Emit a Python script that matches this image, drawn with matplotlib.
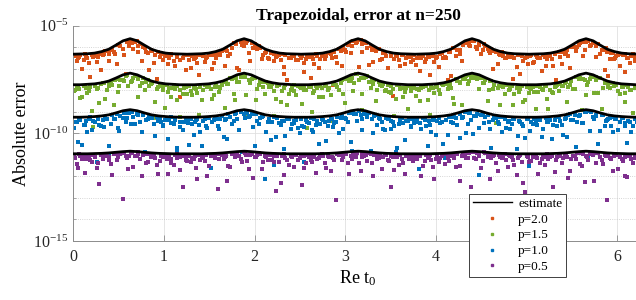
import numpy as np
import matplotlib
matplotlib.use("Agg")
import matplotlib.pyplot as plt
from matplotlib.ticker import NullFormatter, LogFormatterMathtext
from matplotlib.lines import Line2D

plt.rcParams['font.family'] = ['Liberation Serif', 'DejaVu Serif']
plt.rcParams['mathtext.fontset'] = 'custom'
plt.rcParams['mathtext.rm'] = 'Liberation Serif'
plt.rcParams['mathtext.it'] = 'Liberation Serif:italic'

# sample points Re t0 (shared by all p)
x_t0 = [0.01, 0.04, 0.06, 0.10, 0.13, 0.15, 0.19, 0.22, 0.26, 0.29,
        0.33, 0.35, 0.39, 0.42, 0.45, 0.48, 0.51, 0.55, 0.58, 0.61,
        0.64, 0.66, 0.70, 0.72, 0.76, 0.79, 0.83, 0.86, 0.89, 0.93,
        0.96, 0.99, 1.01, 1.05, 1.08, 1.11, 1.14, 1.18, 1.21, 1.24,
        1.27, 1.30, 1.33, 1.35, 1.39, 1.42, 1.45, 1.48, 1.52, 1.55,
        1.58, 1.61, 1.64, 1.67, 1.70, 1.73, 1.77, 1.80, 1.83, 1.86,
        1.89, 1.92, 1.95, 1.98, 2.02, 2.05, 2.08, 2.11, 2.15, 2.18,
        2.21, 2.24, 2.27, 2.30, 2.33, 2.36, 2.40, 2.43, 2.46, 2.50,
        2.52, 2.55, 2.58, 2.62, 2.65, 2.68, 2.71, 2.74, 2.78, 2.81,
        2.84, 2.87, 2.90, 2.93, 2.96, 3.00, 3.03, 3.06, 3.09, 3.12,
        3.15, 3.18, 3.21, 3.24, 3.28, 3.31, 3.34, 3.37, 3.40, 3.44,
        3.47, 3.50, 3.53, 3.56, 3.59, 3.63, 3.66, 3.69, 3.72, 3.75,
        3.78, 3.81, 3.84, 3.88, 3.91, 3.94, 3.97, 4.00, 4.03, 4.07,
        4.10, 4.13, 4.16, 4.19, 4.22, 4.26, 4.29, 4.32, 4.35, 4.38,
        4.41, 4.44, 4.47, 4.50, 4.53, 4.57, 4.60, 4.63, 4.66, 4.70,
        4.73, 4.76, 4.79, 4.82, 4.85, 4.89, 4.92, 4.95, 4.98, 5.01,
        5.04, 5.07, 5.10, 5.13, 5.17, 5.20, 5.23, 5.26, 5.29, 5.32,
        5.36, 5.39, 5.42, 5.45, 5.48, 5.51, 5.55, 5.58, 5.61, 5.64,
        5.67, 5.70, 5.73, 5.76, 5.79, 5.83, 5.86, 5.89, 5.92, 5.95,
        5.98, 6.01, 6.05, 6.08, 6.11, 6.14, 6.17, 6.20, 6.24, 6.27,
        0.02, 0.05, 0.08, 0.12, 0.14, 0.17, 0.21, 0.24, 0.27, 0.31,
        0.34, 0.37, 0.40, 0.43, 0.46, 0.49, 0.52, 0.56, 0.59, 0.62,
        0.65, 0.68, 0.71, 0.74, 0.77, 0.80, 0.84, 0.87, 0.90, 0.94,
        0.97, 0.99, 1.03, 1.06, 1.08, 1.12, 1.15, 1.18, 1.22, 1.25,
        1.28, 1.31, 1.34, 1.37, 1.40, 1.43, 1.46, 1.50, 1.53, 1.56,
        1.60, 1.62, 1.66, 1.69, 1.71, 1.75, 1.78, 1.81, 1.85, 1.88,
        1.91, 1.94, 1.97, 2.00, 2.03, 2.06, 2.09, 2.13, 2.16, 2.19,
        2.22, 2.25, 2.29, 2.32, 2.34, 2.38, 2.41, 2.44, 2.48, 2.51,
        2.54, 2.57, 2.60, 2.63, 2.66, 2.69, 2.72, 2.75, 2.79, 2.82,
        2.85, 2.88, 2.91, 2.95, 2.97, 3.01, 3.04, 3.07, 3.10, 3.13,
        3.17, 3.19, 3.23, 3.26, 3.29, 3.32, 3.35, 3.38, 3.42, 3.45,
        3.48, 3.51, 3.54, 3.57, 3.60, 3.64, 3.67, 3.70, 3.73, 3.76,
        3.79, 3.82, 3.86, 3.89, 3.92, 3.95, 3.98, 4.01, 4.05, 4.08,
        4.11, 4.14, 4.17, 4.20, 4.23, 4.27, 4.30, 4.33, 4.36, 4.39,
        4.42, 4.45, 4.48, 4.52, 4.54, 4.58, 4.61, 4.64, 4.68, 4.71,
        4.74, 4.77, 4.81, 4.84, 4.86, 4.90, 4.93, 4.96, 5.00, 5.03,
        5.05, 5.08, 5.11, 5.15, 5.18, 5.21, 5.24, 5.28, 5.31, 5.33,
        5.37, 5.40, 5.43, 5.46, 5.49, 5.53, 5.56, 5.59, 5.62, 5.65,
        5.68, 5.71, 5.74, 5.77, 5.81, 5.84, 5.87, 5.90, 5.93, 5.96,
        5.99, 6.03, 6.06, 6.09, 6.12, 6.15, 6.19, 6.22, 6.25, 6.28]

# log10 of absolute error, per p
err_p20 = [-6.37, -6.62, -6.44, -7.01, -6.33, -6.52, -7.38, -6.43, -6.66, -6.31,
           -6.36, -6.18, -6.64, -6.12, -6.21, -6.77, -5.87, -6.08, -7.26, -5.74,
           -5.71, -6.06, -5.72, -5.94, -6.62, -6.04, -6.25, -6.11, -6.73, -7.48,
           -6.45, -6.32, -6.42, -6.76, -6.33, -6.63, -6.42, -8.31, -6.51, -7.07,
           -6.35, -6.97, -6.53, -6.43, -7.31, -6.37, -6.66, -6.45, -6.35, -6.73,
           -6.50, -6.29, -6.15, -6.87, -6.19, -6.32, -5.82, -5.86, -7.06, -5.88,
           -5.73, -5.72, -6.64, -6.04, -5.98, -5.94, -6.55, -6.27, -6.49, -6.28,
           -6.64, -6.43, -6.37, -6.33, -6.90, -7.50, -6.48, -6.40, -6.58, -6.35,
           -6.40, -6.72, -6.47, -7.41, -6.53, -6.32, -6.98, -6.40, -6.56, -6.28,
           -6.31, -7.74, -6.44, -6.09, -6.85, -6.13, -5.90, -6.28, -5.70, -5.79,
           -6.91, -6.24, -5.75, -6.02, -5.96, -6.70, -6.17, -6.08, -6.55, -6.28,
           -6.95, -6.42, -8.26, -6.39, -6.61, -6.35, -6.79, -6.47, -6.41, -6.57,
           -6.82, -6.41, -6.49, -6.69, -6.38, -7.30, -6.40, -6.49, -6.91, -6.26,
           -6.45, -7.54, -6.22, -6.04, -6.40, -6.11, -6.65, -5.79, -5.81, -5.93,
           -5.71, -6.00, -5.91, -6.32, -5.86, -6.06, -6.27, -7.00, -6.21, -6.30,
           -6.23, -6.49, -6.35, -6.45, -7.48, -6.92, -6.36, -6.42, -6.52, -6.76,
           -6.42, -6.74, -6.35, -6.51, -7.11, -6.44, -6.56, -6.34, -6.86, -7.53,
           -6.21, -6.79, -6.30, -6.14, -6.95, -5.94, -6.18, -5.90, -5.75, -6.11,
           -5.66, -5.94, -5.81, -6.44, -5.84, -6.12, -7.07, -6.20, -6.53, -6.26,
           -6.52, -6.38, -6.32, -7.13, -6.52, -6.75, -6.33, -6.44, -7.72, -6.59,
           -6.39, -6.50, -6.34, -6.59, -6.42, -6.74, -6.34, -6.41, -6.46, -7.06,
           -6.30, -6.18, -6.31, -6.08, -6.30, -5.89, -5.93, -6.37, -5.74, -5.92,
           -5.82, -5.76, -6.24, -5.84, -5.99, -6.20, -7.06, -6.17, -6.34, -6.23,
           -6.27, -6.59, -6.39, -6.49, -6.36, -6.88, -6.45, -6.58, -6.37, -7.82,
           -6.61, -6.40, -6.48, -6.71, -6.36, -6.41, -6.51, -6.36, -7.00, -6.37,
           -6.26, -6.38, -6.13, -6.13, -6.41, -6.04, -5.81, -6.94, -5.75, -5.96,
           -5.78, -6.28, -5.82, -5.83, -6.06, -6.02, -6.34, -6.22, -6.56, -6.26,
           -6.29, -6.39, -6.57, -7.23, -6.37, -6.50, -6.42, -6.37, -6.59, -6.50,
           -7.17, -6.54, -6.45, -6.37, -6.76, -6.40, -6.56, -6.30, -6.42, -6.28,
           -6.48, -6.23, -6.75, -6.15, -5.97, -6.22, -5.86, -5.93, -5.69, -5.74,
           -5.66, -5.85, -5.80, -6.83, -6.11, -6.08, -6.07, -6.61, -6.25, -6.39,
           -7.73, -6.30, -6.53, -6.42, -6.87, -6.37, -6.52, -6.44, -6.66, -6.36,
           -6.48, -7.08, -6.40, -6.54, -6.43, -6.34, -6.68, -6.44, -6.32, -6.50,
           -6.52, -6.24, -7.32, -6.03, -6.12, -6.33, -5.91, -5.75, -5.89, -5.70,
           -5.69, -6.07, -5.85, -6.11, -5.93, -6.15, -6.06, -6.19, -6.77, -6.35,
           -6.41, -6.52, -6.32, -6.39, -6.49, -6.38, -7.26, -6.62, -6.46, -6.38,
           -6.36, -6.66, -6.43, -6.52, -6.38, -6.87, -6.42, -6.53, -6.29, -7.71,
           -6.46, -6.21, -6.24, -6.39, -5.98, -5.97, -6.00, -5.78, -6.40, -5.77,
           -5.71, -5.91, -5.78, -5.92, -6.32, -6.12, -6.05, -7.34, -6.26, -6.54,
           -6.39, -6.87, -6.37, -6.33, -6.51, -6.39, -6.64, -6.45, -6.73, -6.39]

err_p15 = [-8.04, -7.85, -7.93, -8.31, -7.79, -8.12, -7.84, -9.71, -7.92, -8.57,
           -7.68, -8.38, -7.82, -7.65, -8.66, -7.49, -7.81, -7.50, -7.35, -7.81,
           -7.59, -7.41, -7.33, -8.33, -7.66, -7.97, -7.50, -7.69, -9.28, -7.96,
           -7.79, -7.78, -8.84, -8.07, -7.90, -7.77, -8.43, -7.99, -8.17, -7.86,
           -7.78, -8.05, -7.85, -7.93, -9.17, -8.46, -7.77, -7.84, -7.93, -8.20,
           -7.74, -8.08, -7.75, -8.83, -7.72, -7.43, -8.19, -7.44, -7.60, -7.27,
           -7.37, -9.15, -7.68, -7.39, -8.45, -7.74, -7.60, -8.19, -7.65, -7.86,
           -9.21, -8.40, -7.77, -8.05, -7.88, -8.68, -7.97, -7.77, -8.24, -7.86,
           -8.64, -7.97, -9.74, -7.86, -8.13, -7.78, -8.29, -7.90, -7.80, -7.97,
           -8.24, -7.71, -7.77, -7.97, -7.54, -8.61, -7.49, -7.55, -8.02, -7.25,
           -7.53, -8.91, -7.42, -7.33, -7.91, -7.72, -8.50, -7.60, -7.78, -8.02,
           -7.77, -8.11, -7.96, -8.41, -7.76, -7.91, -8.09, -8.87, -7.84, -7.88,
           -8.27, -7.98, -7.87, -7.79, -8.47, -9.16, -7.91, -7.82, -8.00, -7.71,
           -7.70, -7.96, -7.71, -8.35, -7.48, -7.67, -8.67, -7.48, -7.72, -7.31,
           -7.43, -7.28, -7.92, -7.43, -7.68, -8.51, -7.56, -7.95, -9.52, -7.80,
           -7.77, -8.18, -7.74, -7.95, -8.67, -7.89, -8.07, -7.80, -8.46, -9.30,
           -7.88, -7.84, -8.88, -8.09, -7.92, -7.77, -8.41, -7.97, -8.12, -7.79,
           -8.02, -7.78, -7.64, -8.53, -7.75, -7.95, -7.37, -7.46, -8.92, -7.53,
           -7.74, -7.47, -7.39, -7.37, -8.11, -8.87, -7.68, -7.64, -7.91, -7.68,
           -7.71, -8.04, -7.84, -8.55, -7.73, -7.98, -9.05, -7.91, -8.22, -7.84,
           -7.98, -7.86, -8.35, -7.80, -7.91, -8.04, -8.97, -7.80, -7.91, -7.71,
           -7.68, -8.00, -7.69, -7.75, -7.53, -8.09, -7.50, -7.58, -7.29, -9.01,
           -7.57, -7.34, -7.49, -7.82, -7.44, -7.59, -7.79, -7.68, -8.53, -7.83,
           -7.78, -7.99, -7.77, -7.88, -8.30, -7.96, -7.78, -9.24, -7.87, -8.16,
           -7.82, -8.23, -7.89, -8.13, -7.84, -7.98, -7.77, -7.82, -8.42, -7.85,
           -7.85, -7.91, -7.61, -7.63, -7.69, -7.49, -8.47, -7.63, -7.40, -7.28,
           -8.24, -7.50, -7.46, -7.41, -7.92, -7.58, -7.85, -7.61, -7.84, -7.72,
           -8.04, -7.81, -8.52, -7.90, -7.77, -8.17, -7.84, -8.03, -7.80, -7.90,
           -7.79, -7.97, -7.83, -8.99, -8.05, -7.90, -7.78, -8.32, -7.80, -7.90,
           -9.43, -7.65, -7.86, -7.67, -8.15, -7.47, -7.58, -7.41, -7.64, -7.26,
           -7.41, -8.15, -7.40, -7.62, -7.52, -7.51, -7.99, -7.77, -7.72, -7.99,
           -8.09, -7.82, -9.20, -7.76, -7.95, -8.31, -7.90, -7.81, -8.04, -7.85,
           -7.93, -8.48, -7.85, -7.79, -7.99, -7.83, -8.11, -7.86, -8.17, -7.74,
           -7.70, -7.76, -7.91, -8.64, -7.55, -7.63, -7.46, -7.33, -7.55, -7.43,
           -7.30, -7.46, -7.33, -7.68, -7.51, -7.99, -7.58, -7.74, -7.88, -8.66,
           -7.83, -7.75, -7.99, -7.82, -8.16, -7.78, -7.92, -8.56, -7.86, -8.11,
           -7.96, -8.06, -7.79, -7.86, -7.97, -7.82, -8.85, -8.06, -7.85, -7.73,
           -7.71, -7.81, -7.59, -7.84, -7.58, -7.93, -7.40, -7.44, -7.49, -8.23,
           -7.59, -7.36, -8.11, -7.53, -7.43, -7.89, -7.62, -7.86, -7.68, -7.80,
           -7.75, -8.18, -7.86, -8.11, -7.83, -7.99, -7.79, -7.86, -8.48, -7.93]

err_p10 = [-9.73, -9.48, -9.34, -10.53, -9.60, -9.92, -9.26, -9.43, -11.32, -9.61,
           -9.36, -9.28, -10.57, -9.55, -9.31, -9.09, -9.87, -9.29, -9.47, -9.06,
           -9.56, -9.22, -9.11, -9.05, -9.94, -10.85, -9.34, -9.26, -9.55, -9.23,
           -9.27, -9.66, -9.40, -10.28, -9.26, -9.57, -10.89, -9.48, -9.85, -9.37,
           -9.52, -9.31, -10.08, -9.40, -9.63, -10.59, -9.34, -9.76, -11.62, -9.40,
           -9.33, -9.79, -9.19, -9.40, -10.27, -9.24, -9.42, -9.05, -9.83, -10.86,
           -9.28, -9.06, -9.18, -9.69, -9.09, -9.55, -9.25, -12.12, -9.45, -10.31,
           -9.24, -10.19, -9.54, -9.41, -10.73, -9.35, -9.81, -9.51, -9.39, -10.00,
           -9.66, -11.35, -9.45, -9.28, -9.92, -9.60, -10.51, -9.32, -9.45, -9.68,
           -9.33, -9.70, -9.47, -9.97, -9.13, -9.27, -9.45, -10.39, -9.05, -9.09,
           -8.95, -9.31, -9.08, -9.23, -10.81, -9.98, -9.16, -9.29, -9.46, -9.84,
           -9.31, -9.81, -9.45, -10.88, -9.56, -9.27, -10.29, -9.43, -9.70, -9.33,
           -9.45, -11.65, -9.78, -9.36, -10.59, -9.63, -9.38, -10.06, -9.28, -9.47,
           -11.13, -10.06, -9.23, -9.52, -9.28, -10.23, -9.30, -9.01, -9.56, -9.06,
           -10.03, -9.21, -11.94, -9.14, -9.51, -9.13, -9.80, -9.36, -9.30, -9.56,
           -9.94, -9.35, -9.48, -9.80, -9.34, -10.74, -9.42, -9.57, -10.23, -9.30,
           -9.91, -9.55, -9.42, -9.33, -10.17, -11.04, -9.49, -9.37, -9.61, -9.25,
           -9.26, -9.61, -9.32, -10.15, -9.10, -9.36, -10.65, -9.19, -9.53, -9.03,
           -8.95, -9.90, -9.26, -9.15, -10.51, -9.16, -9.65, -9.38, -9.30, -9.93,
           -9.34, -9.84, -9.27, -9.53, -10.43, -9.45, -9.66, -9.34, -10.15, -11.20,
           -9.49, -10.39, -9.39, -9.59, -9.42, -9.32, -9.83, -9.49, -9.33, -9.64,
           -9.71, -9.33, -11.01, -9.15, -9.35, -9.74, -9.19, -9.04, -9.30, -9.04,
           -9.02, -9.55, -9.16, -9.49, -9.16, -9.39, -9.18, -9.29, -10.10, -9.43,
           -9.47, -9.63, -9.31, -9.40, -9.54, -9.36, -10.67, -9.70, -9.46, -9.34,
           -10.53, -9.58, -9.46, -9.33, -9.92, -9.41, -9.65, -9.28, -9.48, -9.31,
           -9.65, -9.31, -10.15, -9.33, -9.12, -9.58, -9.12, -9.31, -9.00, -9.10,
           -8.97, -9.22, -9.08, -10.57, -9.43, -9.29, -9.19, -9.92, -9.32, -9.49,
           -11.45, -9.30, -9.62, -9.44, -10.11, -9.35, -9.56, -9.43, -9.76, -9.31,
           -9.69, -9.37, -9.51, -9.84, -9.32, -9.42, -9.58, -9.37, -10.35, -9.44,
           -9.32, -9.54, -9.22, -9.30, -9.78, -9.31, -9.04, -10.83, -9.09, -9.43,
           -9.15, -9.86, -9.11, -9.07, -9.35, -9.20, -9.60, -9.34, -9.79, -9.30,
           -9.29, -9.43, -9.68, -10.66, -9.36, -9.54, -9.41, -9.33, -9.66, -9.52,
           -9.36, -9.52, -9.30, -9.66, -9.41, -9.92, -9.32, -9.44, -9.54, -10.48,
           -9.38, -9.24, -9.49, -9.23, -9.62, -9.08, -9.22, -9.97, -9.07, -9.37,
           -9.21, -9.08, -9.74, -9.08, -9.25, -9.47, -10.68, -9.26, -9.46, -9.25,
           -9.26, -9.73, -9.41, -9.55, -9.35, -10.11, -9.45, -9.64, -9.33, -11.50,
           -9.45, -9.33, -9.61, -9.38, -9.80, -9.30, -9.47, -10.25, -9.36, -9.67,
           -9.42, -10.09, -9.28, -9.17, -9.39, -9.16, -9.48, -9.15, -9.54, -9.01,
           -11.16, -9.01, -9.35, -9.20, -9.89, -9.17, -9.42, -9.32, -9.68, -9.25,
           -9.31, -9.49, -9.28, -9.65, -9.41, -9.92, -9.33, -9.46, -9.58, -10.53]

err_p05 = [-11.06, -11.41, -10.98, -11.17, -11.83, -11.10, -11.25, -11.01, -11.60, -12.36,
           -11.21, -11.02, -11.09, -11.43, -10.95, -11.24, -10.98, -13.05, -11.05, -11.66,
           -10.86, -11.56, -11.07, -10.98, -11.97, -10.96, -11.31, -11.09, -11.02, -11.48,
           -11.28, -11.11, -11.01, -11.89, -11.21, -11.45, -10.97, -11.09, -12.49, -11.25,
           -11.06, -11.35, -11.19, -11.59, -10.99, -11.13, -11.27, -11.99, -11.03, -11.06,
           -10.96, -11.21, -11.01, -11.09, -12.21, -11.56, -10.92, -10.97, -11.06, -11.31,
           -10.92, -11.28, -11.01, -12.06, -11.11, -10.90, -11.66, -11.03, -11.25, -10.99,
           -11.07, -12.70, -11.33, -11.03, -11.94, -11.24, -11.06, -11.56, -10.99, -11.15,
           -12.38, -11.61, -11.02, -11.26, -11.10, -11.83, -11.16, -10.97, -11.40, -11.04,
           -11.76, -11.13, -13.11, -11.02, -11.25, -10.94, -11.39, -11.03, -10.94, -11.11,
           -11.38, -10.94, -11.03, -11.27, -10.95, -11.98, -11.02, -11.13, -11.64, -10.96,
           -11.23, -12.48, -11.08, -10.97, -11.45, -11.21, -11.89, -11.02, -11.12, -11.30,
           -11.08, -11.04, -12.00, -11.28, -11.13, -10.99, -11.58, -11.18, -11.34, -11.04,
           -11.41, -11.14, -11.03, -10.96, -11.57, -12.20, -11.05, -10.95, -11.13, -10.86,
           -10.89, -11.17, -10.97, -11.62, -10.89, -11.12, -12.10, -11.07, -11.36, -11.02,
           -11.13, -10.98, -11.55, -11.06, -11.24, -11.94, -11.03, -11.34, -12.71, -11.09,
           -11.30, -11.12, -11.02, -11.89, -11.21, -11.45, -10.96, -11.08, -12.48, -11.23,
           -11.04, -11.38, -10.94, -11.12, -11.77, -11.03, -11.17, -10.92, -11.50, -12.26,
           -11.11, -10.94, -11.02, -11.38, -10.93, -11.24, -11.01, -13.10, -11.13, -11.76,
           -10.96, -11.66, -11.17, -11.08, -12.05, -11.03, -11.37, -11.14, -11.05, -11.50,
           -11.13, -11.63, -11.06, -11.01, -11.19, -11.05, -11.31, -11.08, -11.39, -11.01,
           -10.99, -11.07, -11.24, -11.95, -10.98, -11.09, -10.98, -10.91, -11.14, -11.03,
           -10.91, -11.04, -10.88, -11.17, -10.99, -11.39, -10.97, -11.06, -11.16, -11.87,
           -11.07, -11.00, -11.20, -11.04, -11.36, -10.99, -11.13, -11.70, -11.06, -11.29,
           -10.99, -11.16, -11.04, -12.11, -11.25, -11.12, -11.02, -11.51, -11.05, -11.15,
           -12.57, -10.98, -11.20, -11.05, -11.53, -10.95, -11.09, -10.98, -11.21, -10.87,
           -11.01, -11.68, -10.95, -11.11, -11.00, -10.95, -11.34, -11.10, -11.01, -11.25,
           -11.32, -11.06, -12.32, -10.98, -11.16, -11.48, -11.10, -11.02, -11.23, -11.05,
           -11.03, -11.40, -11.09, -11.31, -11.05, -11.19, -11.01, -11.05, -11.62, -11.11,
           -11.12, -11.22, -10.97, -11.02, -11.11, -10.96, -11.91, -11.18, -10.99, -10.90,
           -11.77, -11.08, -11.00, -10.93, -11.37, -11.01, -11.21, -10.94, -11.12, -11.01,
           -11.27, -11.05, -11.69, -11.12, -10.99, -11.36, -11.05, -11.21, -11.01, -11.09,
           -11.17, -11.06, -11.52, -11.02, -11.12, -11.25, -12.11, -11.03, -11.15, -10.97,
           -10.96, -11.29, -11.04, -11.13, -10.97, -11.51, -11.01, -11.14, -10.90, -12.48,
           -11.15, -10.93, -11.04, -11.30, -10.93, -11.02, -11.15, -11.01, -11.76, -11.11,
           -11.03, -11.22, -11.01, -11.09, -11.48, -11.16, -10.99, -12.33, -11.07, -11.34,
           -11.27, -11.04, -11.14, -11.39, -11.01, -11.08, -11.20, -11.04, -11.78, -11.11,
           -10.96, -11.13, -11.00, -12.06, -11.19, -11.04, -10.93, -11.42, -10.95, -11.05,
           -11.22, -10.96, -12.23, -10.90, -11.08, -11.42, -11.05, -10.98, -11.20, -11.03,
           -11.00, -11.09, -11.27, -11.99, -11.04, -11.17, -11.07, -11.01, -11.25, -11.15]

# estimate curves, log10, sampled on Re t0 = k*pi/40, k = 0..80
est_x = np.linspace(0, 2 * np.pi, 81)
est_p20 = [-6.32, -6.31, -6.30, -6.27, -6.20, -6.09, -5.90, -5.70, -5.60, -5.70, -5.90, -6.09, -6.20, -6.27, -6.30, -6.31,
           -6.32, -6.31, -6.30, -6.27, -6.20, -6.09, -5.90, -5.70, -5.60, -5.70, -5.90, -6.09, -6.20, -6.27, -6.30, -6.31,
           -6.32, -6.31, -6.30, -6.27, -6.20, -6.09, -5.90, -5.70, -5.60, -5.70, -5.90, -6.09, -6.20, -6.27, -6.30, -6.31,
           -6.32, -6.31, -6.30, -6.27, -6.20, -6.09, -5.90, -5.70, -5.60, -5.70, -5.90, -6.09, -6.20, -6.27, -6.30, -6.31,
           -6.32, -6.31, -6.30, -6.27, -6.20, -6.09, -5.90, -5.70, -5.60, -5.70, -5.90, -6.09, -6.20, -6.27, -6.30, -6.31,
           -6.32]
est_p15 = [-7.74, -7.74, -7.72, -7.70, -7.65, -7.57, -7.43, -7.28, -7.20, -7.28, -7.43, -7.57, -7.65, -7.70, -7.72, -7.74,
           -7.74, -7.74, -7.72, -7.70, -7.65, -7.57, -7.43, -7.28, -7.20, -7.28, -7.43, -7.57, -7.65, -7.70, -7.72, -7.74,
           -7.74, -7.74, -7.72, -7.70, -7.65, -7.57, -7.43, -7.28, -7.20, -7.28, -7.43, -7.57, -7.65, -7.70, -7.72, -7.74,
           -7.74, -7.74, -7.72, -7.70, -7.65, -7.57, -7.43, -7.28, -7.20, -7.28, -7.43, -7.57, -7.65, -7.70, -7.72, -7.74,
           -7.74, -7.74, -7.72, -7.70, -7.65, -7.57, -7.43, -7.28, -7.20, -7.28, -7.43, -7.57, -7.65, -7.70, -7.72, -7.74,
           -7.74]
est_p10 = [-9.25, -9.25, -9.24, -9.22, -9.19, -9.14, -9.05, -8.95, -8.90, -8.95, -9.05, -9.14, -9.19, -9.22, -9.24, -9.25,
           -9.25, -9.25, -9.24, -9.22, -9.19, -9.14, -9.05, -8.95, -8.90, -8.95, -9.05, -9.14, -9.19, -9.22, -9.24, -9.25,
           -9.25, -9.25, -9.24, -9.22, -9.19, -9.14, -9.05, -8.95, -8.90, -8.95, -9.05, -9.14, -9.19, -9.22, -9.24, -9.25,
           -9.25, -9.25, -9.24, -9.22, -9.19, -9.14, -9.05, -8.95, -8.90, -8.95, -9.05, -9.14, -9.19, -9.22, -9.24, -9.25,
           -9.25, -9.25, -9.24, -9.22, -9.19, -9.14, -9.05, -8.95, -8.90, -8.95, -9.05, -9.14, -9.19, -9.22, -9.24, -9.25,
           -9.25]
est_p05 = [-10.95, -10.95, -10.95, -10.94, -10.93, -10.91, -10.88, -10.85, -10.83, -10.85, -10.88, -10.91, -10.93, -10.94, -10.95, -10.95,
           -10.95, -10.95, -10.95, -10.94, -10.93, -10.91, -10.88, -10.85, -10.83, -10.85, -10.88, -10.91, -10.93, -10.94, -10.95, -10.95,
           -10.95, -10.95, -10.95, -10.94, -10.93, -10.91, -10.88, -10.85, -10.83, -10.85, -10.88, -10.91, -10.93, -10.94, -10.95, -10.95,
           -10.95, -10.95, -10.95, -10.94, -10.93, -10.91, -10.88, -10.85, -10.83, -10.85, -10.88, -10.91, -10.93, -10.94, -10.95, -10.95,
           -10.95, -10.95, -10.95, -10.94, -10.93, -10.91, -10.88, -10.85, -10.83, -10.85, -10.88, -10.91, -10.93, -10.94, -10.95, -10.95,
           -10.95]

labels = ['p=2.0', 'p=1.5', 'p=1.0', 'p=0.5']
colors = ['#D95319', '#77AC30', '#0072BD', '#7E2F8E']
errs = [err_p20, err_p15, err_p10, err_p05]
ests = [est_p20, est_p15, est_p10, est_p05]

fig = plt.figure(figsize=(6.36, 3.0), dpi=100)
ax = fig.add_axes([0.115, 0.197, 0.896, 0.717])

for e, c in zip(errs, colors):
    ax.scatter(x_t0, 10.0 ** np.array(e), s=6, marker='s', color=c, linewidths=0, zorder=2)
for est in ests:
    ax.plot(est_x, 10.0 ** np.array(est), color='black', lw=2.0, zorder=3)

ax.set_yscale('log')
ax.set_xlim(0, 2 * np.pi)
ax.set_ylim(1e-15, 1e-5)
ax.set_xticks([0, 1, 2, 3, 4, 5, 6])
ax.set_yticks([1e-15, 1e-10, 1e-5])
ax.set_yticks([10.0 ** -k for k in range(6, 15) if k != 10], minor=True)
ax.yaxis.set_major_formatter(LogFormatterMathtext())
ax.yaxis.set_minor_formatter(NullFormatter())
ax.tick_params(direction='in', labelsize=11.5, labelcolor='#262626', color='#8c8c8c', length=4, width=0.6)
ax.tick_params(which='minor', direction='in', length=2, width=0.5, color='#8c8c8c')
ax.tick_params(axis='x', pad=6)

ax.grid(True, which='major', color='#e0e0e0', lw=0.6, zorder=0)
ax.grid(True, which='minor', axis='y', color='#c8c8c8', lw=0.6, linestyle=':', zorder=0)
ax.set_axisbelow(True)
for s in ['top', 'right']:
    ax.spines[s].set_visible(False)
for s in ['left', 'bottom']:
    ax.spines[s].set_color('#8c8c8c')
    ax.spines[s].set_linewidth(0.7)

ax.set_title('Trapezoidal, error at n=250', fontsize=12.5, fontweight='bold', pad=4)
ax.set_xlabel('Re t$_0$', fontsize=13, labelpad=2)
ax.set_ylabel('Absolute error', fontsize=13, labelpad=2)

handles = [Line2D([], [], color='black', lw=1.0, label='estimate')]
for lab, c in zip(labels, colors):
    handles.append(Line2D([], [], color=c, marker='s', markersize=2.0, linestyle='none', label=lab))
leg = fig.legend(handles=handles, loc='lower left', bbox_to_anchor=(0.737, 0.077),
                 bbox_transform=fig.transFigure, fontsize=9.5, frameon=True, fancybox=False,
                 borderaxespad=0, handlelength=3.0, handletextpad=0.45, labelspacing=0.27,
                 borderpad=0.3)
leg.get_frame().set_edgecolor('#404040')
leg.get_frame().set_linewidth(0.7)
leg.get_frame().set_alpha(1.0)

fig.savefig('out.png', dpi=100)
